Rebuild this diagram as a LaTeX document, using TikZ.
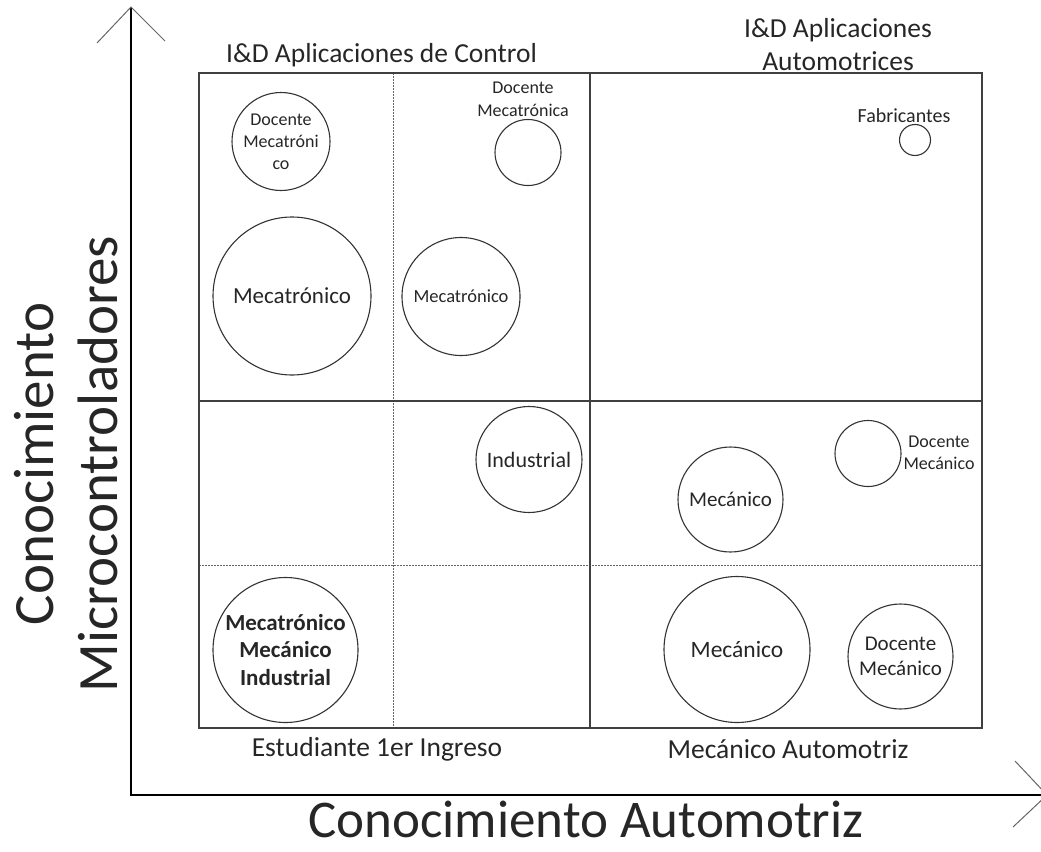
\documentclass[tikz,border=0pt]{standalone}
\usepackage{fontspec}
\setmainfont{Carlito}
\begin{document}
\begin{tikzpicture}[x=1pt,y=-1pt,
  bub/.style={circle,draw=black!80,line width=1.1pt,inner sep=0pt,align=center,text=black!85},
  lbl/.style={align=center,text=black!85,inner sep=0pt},
  one/.style={text=black!85,inner sep=0pt},
  frame/.style={draw=black!75,line width=1.4pt},
  dline/.style={draw=black!60,line width=0.8pt,dash pattern=on 1.5pt off 1.5pt},
  axis/.style={draw=black,line width=1.3pt},
  arm/.style={draw=black!60,line width=1pt}]
\useasboundingbox (0,0) rectangle (1041,851);
% axes
\coordinate (O) at (131,795);
\coordinate (Ytip) at (131,7);
\coordinate (Xtip) at (1047,795);
\draw[axis] (Ytip) -- (O) -- (Xtip);
\draw[arm] (97,43) -- (Ytip) -- (165,41);
\draw[arm] (1015,761) -- (Xtip) -- (1013,827);
% grid
\draw[dline] (393,73) -- (393,728);
\draw[dline] (199,565) -- (982,565);
\draw[frame] (199,73) rectangle (982,728);
\draw[frame] (590,73) -- (590,728);
\draw[frame] (199,401) -- (982,401);
% bubbles
\node[bub,minimum size=98pt,font=\fontsize{18}{22}\selectfont] (dm1) at (281,141.5) {Docente\\Mecatróni\\co};
\node[bub,minimum size=66pt] (dm2) at (528,152.5) {};
\node[lbl,font=\fontsize{18}{23}\selectfont] (dm2l) at (523,99.5) {Docente\\Mecatrónica};
\node[bub,minimum size=31pt] (fab) at (915,140) {};
\node[one,font=\fontsize{20}{24}\selectfont] (fabl) at (904,116) {Fabricantes};
\node[bub,minimum size=158pt,font=\fontsize{23}{27}\selectfont] (mt1) at (292,296) {Mecatrónico};
\node[bub,minimum size=118pt,font=\fontsize{18.5}{22}\selectfont] (mt2) at (461,296.5) {Mecatrónico};
\node[bub,minimum size=106pt,font=\fontsize{22}{26}\selectfont] (ind) at (529,459.5) {Industrial};
\node[bub,minimum size=145pt,font=\bfseries\fontsize{23}{27.5}\selectfont] (mmi) at (285.5,650) {Mecatrónico\\Mecánico\\Industrial};
\node[bub,minimum size=105pt,font=\fontsize{21}{25}\selectfont] (mec1) at (730.5,499.5) {Mecánico};
\node[bub,minimum size=66pt] (dmc1) at (868,453.5) {};
\node[lbl,font=\fontsize{18}{22}\selectfont] (dmc1l) at (939,453) {Docente\\Mecánico};
\node[bub,minimum size=146pt,font=\fontsize{23.5}{28}\selectfont] (mec2) at (737,649.5) {Mecánico};
\node[bub,minimum size=105pt,font=\fontsize{21}{25}\selectfont] (dmc2) at (900.5,656.5) {Docente\\Mecánico};
% titles
\node[one,font=\fontsize{27.5}{33}\selectfont] (t1) at (381.5,55) {I\&D Aplicaciones de Control};
\node[lbl,font=\fontsize{27.5}{33}\selectfont] (t2) at (838,45) {I\&D Aplicaciones\\Automotrices};
\node[one,font=\fontsize{27.5}{33}\selectfont] (b1) at (377,749) {Estudiante 1er Ingreso};
\node[one,font=\fontsize{27.5}{33}\selectfont] (b2) at (788,749) {Mecánico Automotriz};
\node[one,font=\fontsize{53}{62}\selectfont] (xl) at (586,819) {Conocimiento Automotriz};
\node[lbl,font=\fontsize{57}{64}\selectfont,rotate=90] (yl) at (66,464) {Conocimiento\\Microcontroladores};
\end{tikzpicture}
\end{document}
